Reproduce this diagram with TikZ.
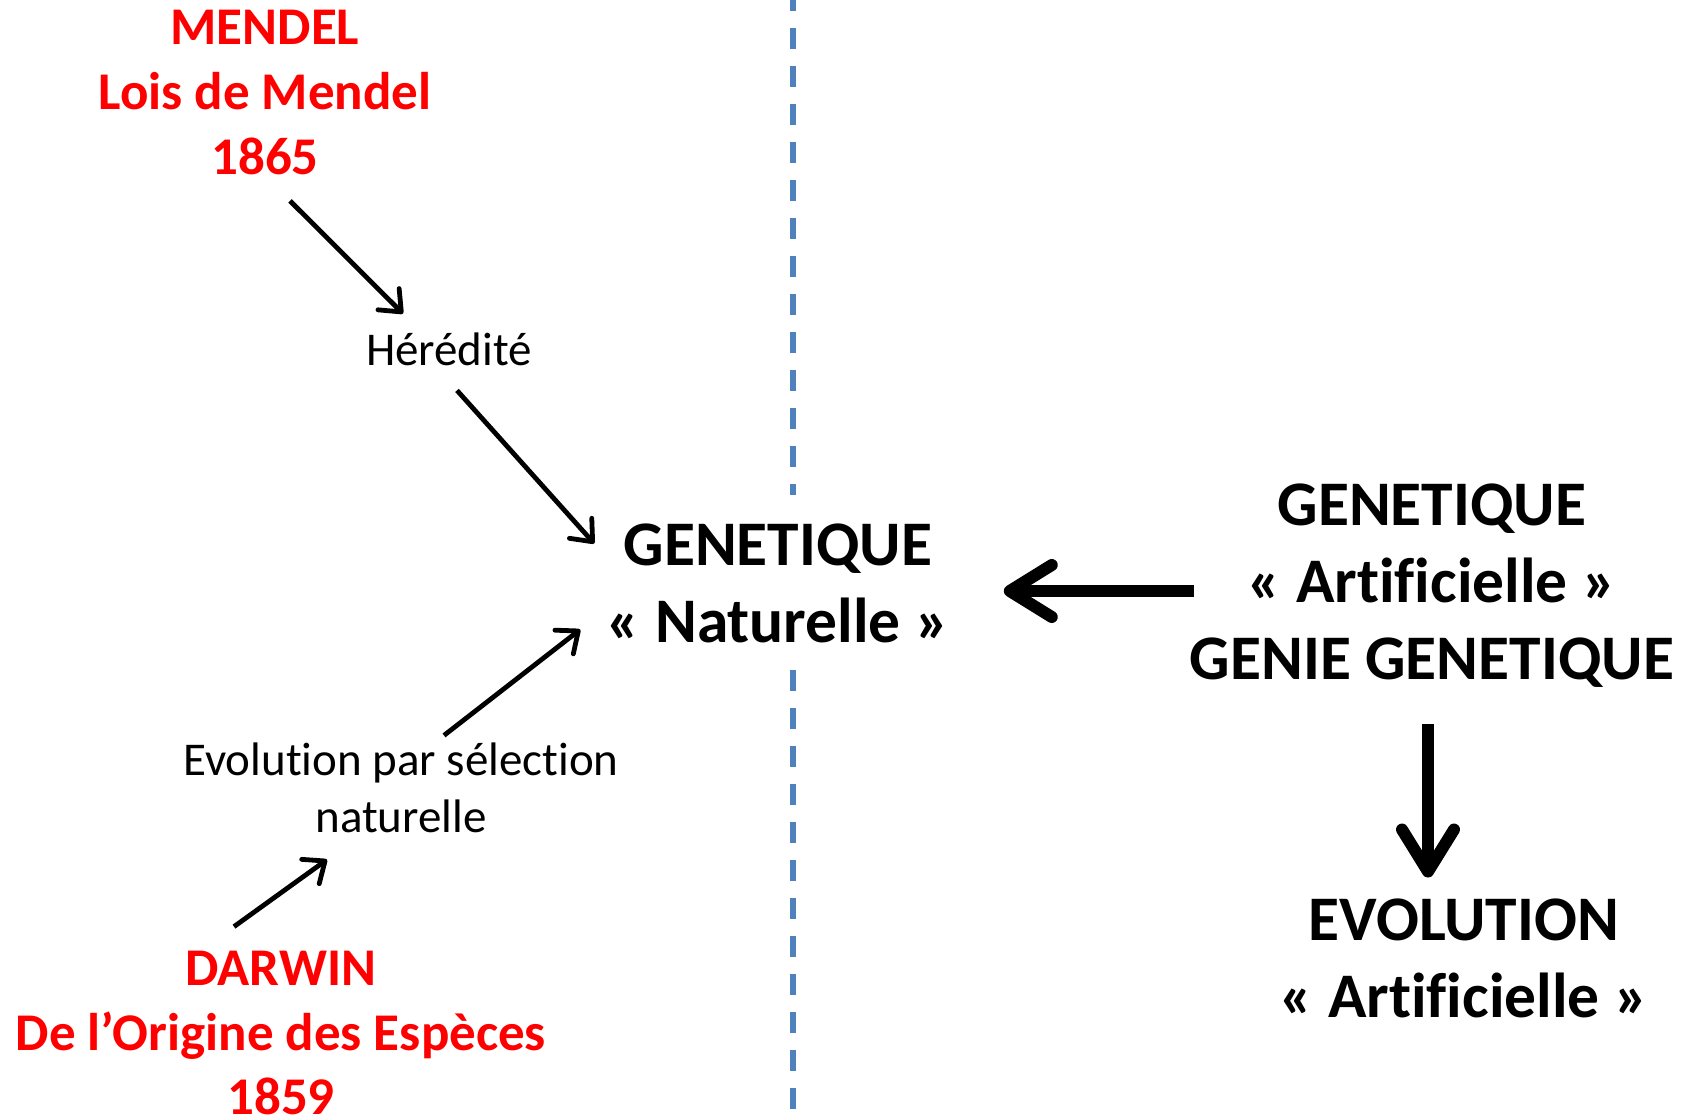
\documentclass[tikz,border=0pt]{standalone}
\usepackage{fontspec}
\setmainfont{Carlito}[Ligatures={NoCommon}]
\usetikzlibrary{arrows.meta,calc}

\definecolor{sepblue}{RGB}{79,129,189}

\tikzset{
  redtxt/.style={text=red, font=\fontsize{26.5}{32.3}\selectfont\bfseries, align=center, inner sep=0pt},
  plaintxt/.style={font=\fontsize{23.5}{28.7}\selectfont, align=center, inner sep=0pt},
  bigtxt/.style={font=\fontsize{31.75}{38.5}\selectfont\bfseries, align=center, inner sep=0pt},
  thinarrow/.style={line width=2.4pt, -{Straight Barb[length=9pt, width=15pt, round]}},
  bigarrow/.style={line width=6pt, -{Straight Barb[length=21pt, width=26pt, round]}},
  sepline/.style={line width=2.65pt, draw=sepblue, dash pattern=on 10.5pt off 8.5pt}
}

\begin{document}
\begin{tikzpicture}[x=0.5pt, y=-0.5pt]
\useasboundingbox (0,0) rectangle (1694,1120);

%% Separator %%

\draw[sepline, dash phase=4.85pt] (793,0) -- (793,495);
\draw[sepline] (793,670) -- (793,1112);


%% Left side %%

\node[redtxt] (mendel) at (265,92.5) {MENDEL\\Lois de Mendel\\1865};
\node[plaintxt] (hered) at (449,349.5) {Hérédité};
\node[bigtxt] (natur) at (778,583.5) {GENETIQUE\\« Naturelle »};
\node[plaintxt] (select) at (401,788) {Evolution par sélection\\naturelle};
\node[redtxt] (darwin) at (281,1033) {DARWIN\\De l’Origine des Espèces\\1859};

\draw[thinarrow] ([shift={(25,26)}]mendel.south) -- ([shift={(-46,-19)}]hered.north);
\draw[thinarrow] ([shift={(8,24)}]hered.south) -- ([shift={(-12,-40)}]natur.west);
\draw[thinarrow] ([shift={(43,-7)}]select.north) -- ([shift={(-26,46)}]natur.west);
\draw[thinarrow] ([shift={(-47,-24)}]darwin.north) -- ([shift={(-74,26)}]select.south);


%% Right side %%

\node[bigtxt] (artif) at (1432,586) {GENETIQUE\\« Artificielle »\\GENIE GENETIQUE};
\node[bigtxt] (evol) at (1464,958.5) {EVOLUTION\\« Artificielle »};

\draw[bigarrow] ([shift={(4,5)}]artif.west) -- ([shift={(54,7.5)}]natur.east);
\draw[bigarrow] ([shift={(-4,36)}]artif.south) -- ([shift={(-36,-21)}]evol.north);

\end{tikzpicture}
\end{document}
